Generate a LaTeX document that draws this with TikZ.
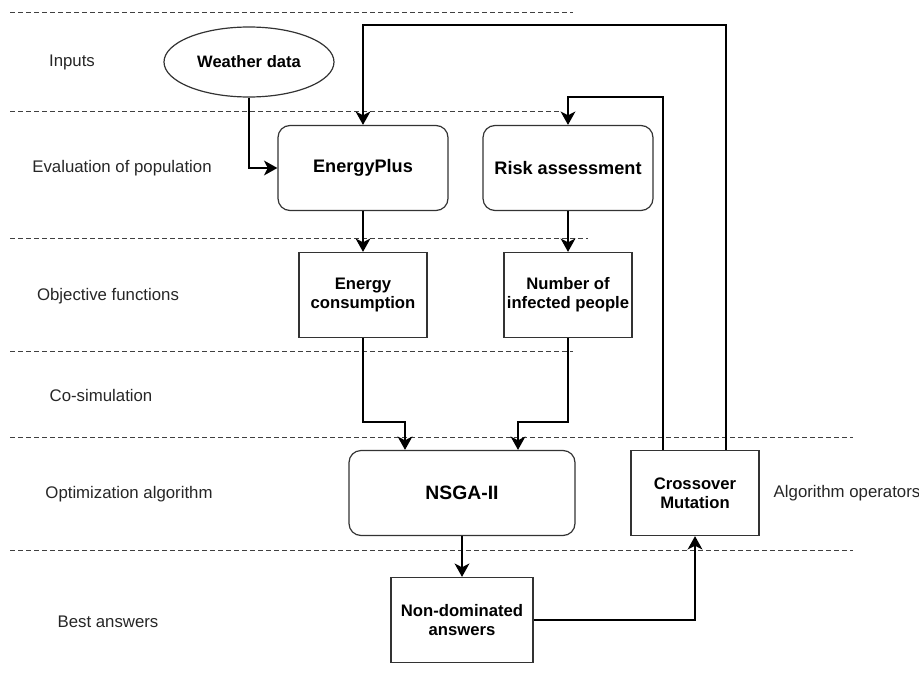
\documentclass[tikz,border=0pt]{standalone}
\usepackage{fontspec}
\setmainfont{Liberation Sans}
\usetikzlibrary{positioning,shapes.geometric,arrows.meta}
\tikzset{
    lane/.style={draw=black!75, line width=0.7pt, dash pattern=on 3.5pt off 2.5pt},
    flow/.style={draw=black, line width=1.9pt,
        -{Stealth[length=10pt, width=11pt, inset=2.8pt]}},
    roundbox/.style={draw=black!80, line width=0.9pt, rounded corners=9pt,
        minimum width=127.5pt, minimum height=63.75pt, inner sep=2pt,
        font=\fontsize{13.6}{16}\selectfont\bfseries},
    plainbox/.style={draw=black!80, line width=0.9pt, align=center,
        minimum width=96pt, minimum height=63.75pt, inner sep=2pt,
        font=\fontsize{12.5}{14.5}\selectfont\bfseries},
    lanename/.style={font=\fontsize{12.6}{15}\selectfont, text=black!85}
}

\begin{document}
\begin{tikzpicture}[x=0.75pt, y=-0.75pt]
\useasboundingbox (0,0) rectangle (919,674);

% swimlane borders
\foreach \y/\xe in {12/573, 111/560, 238/588, 351/573, 437/853, 550/853}
    \draw[lane] (10,\y) -- (\xe,\y);

% lane names
\node[lanename] (inputs) at (72,62) {Inputs};
\node[lanename] (evaluation) at (122,168) {Evaluation of population};
\node[lanename] (objective) at (108,296) {Objective functions};
\node[lanename] (cosim) at (101,395) {Co-simulation};
\node[lanename] (optim) at (129,494) {Optimization algorithm};
\node[lanename] (best) at (108,622) {Best answers};
\node[lanename, anchor=west] (operators) at (769,493) {Algorithm operators};

% blocks
\node[ellipse, draw=black!80, line width=0.9pt, minimum width=127.5pt,
    minimum height=52.5pt, font=\fontsize{12.4}{15}\selectfont\bfseries]
    (weather) at (249,62) {Weather data};
\node[roundbox] (eplus) at (363,168) {EnergyPlus};
\node[roundbox] (risk) at (568,168) {Risk assessment};
\node[plainbox] (energy) at (363,295) {Energy\\consumption};
\node[plainbox] (infected) at (568,295) {Number of\\infected people};
\node[roundbox, minimum width=169.5pt, font=\fontsize{14.5}{17}\selectfont\bfseries]
    (nsga) at (462,493) {NSGA-II};
\node[plainbox] (xover) at (695,493) {Crossover\\Mutation};
\node[plainbox, minimum width=106.5pt] (nondom) at (462,620) {Non-dominated\\answers};

% bends
\coordinate (loopa) at (726,25);
\coordinate (loopb) at (663,97);
\coordinate (jointa) at (405,422);
\coordinate (jointb) at (518,422);

% connectors
\draw[flow] (weather.south) |- (eplus.west);
\draw[flow] (xover.north -| loopa) -- (loopa) -| (eplus.north);
\draw[flow] (xover.north -| loopb) -- (loopb) -| (risk.north);
\draw[flow] (eplus) -- (energy);
\draw[flow] (risk) -- (infected);
\draw[flow] (energy.south) |- (jointa) -- (jointa |- nsga.north);
\draw[flow] (infected.south) |- (jointb) -- (jointb |- nsga.north);
\draw[flow] (nsga) -- (nondom);
\draw[flow] (nondom.east) -| (xover.south);
\end{tikzpicture}
\end{document}
